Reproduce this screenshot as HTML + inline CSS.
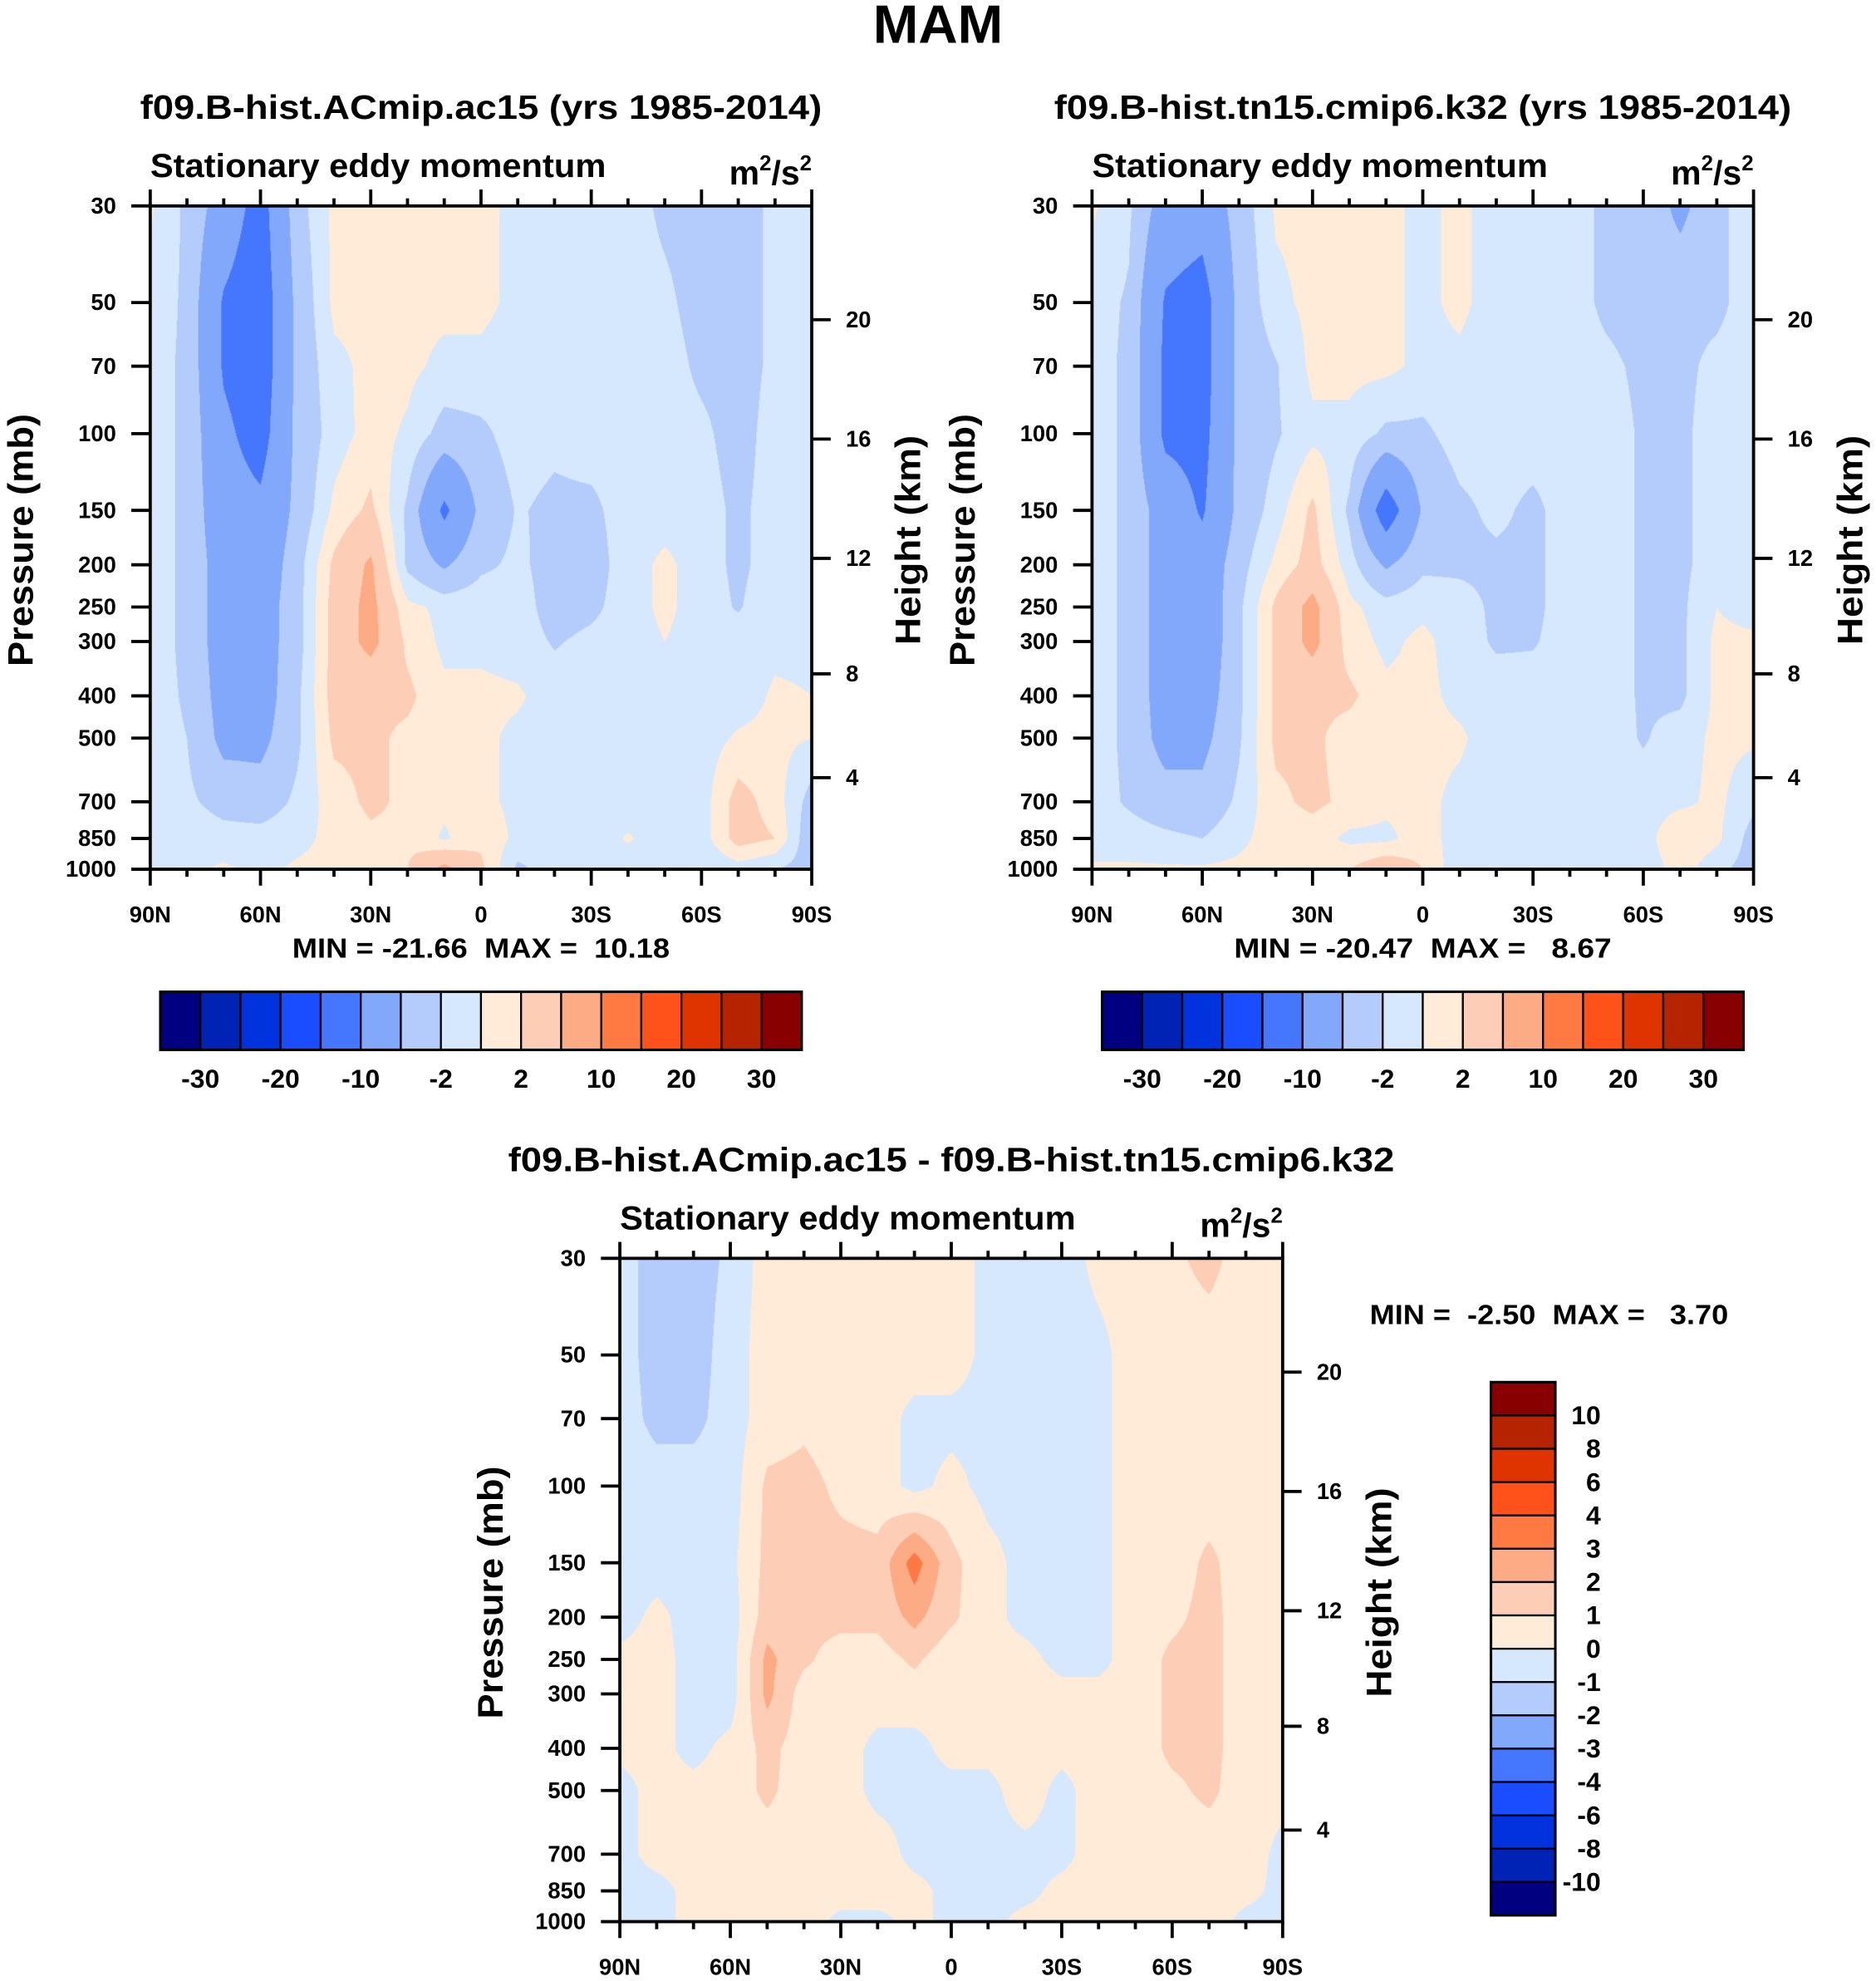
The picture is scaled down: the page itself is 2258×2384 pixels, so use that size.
<!DOCTYPE html>
<html><head><meta charset="utf-8"><style>
html,body{margin:0;padding:0;background:#fff;width:2258px;height:2384px;overflow:hidden}
#root{position:absolute;left:0;top:0;width:1486px;height:1568px;transform-origin:0 0;transform:scale(1.51952,1.52041)}
canvas{position:absolute}
svg{position:absolute;left:0;top:0}
text{font-family:"Liberation Sans",Arial,sans-serif;font-weight:bold;fill:#000;white-space:pre}
</style></head><body>
<div id="root">
<canvas id="c1" width="800" height="800" style="left:119px;top:163px;width:524px;height:525px"></canvas>
<canvas id="c2" width="800" height="800" style="left:865px;top:163px;width:524px;height:525px"></canvas>
<canvas id="c3" width="800" height="800" style="left:491px;top:996px;width:525px;height:525px"></canvas>
<svg id="ov" width="1486" height="1568" viewBox="0 0 1486 1568">
<text x="743" y="34" font-size="43" text-anchor="middle" textLength="103" lengthAdjust="spacingAndGlyphs">MAM</text>
</svg>
</div>
<script>
const LATS=[90,80,70,60,50,40,30,20,10,0,-10,-20,-30,-40,-50,-60,-70,-80,-90];
const PLEVS=[30,50,70,100,150,200,250,300,400,500,700,850,1000];
const PTICKS=[30,50,70,100,150,200,250,300,400,500,700,850,1000];
const HTICKS=[4,8,12,16,20];
const XTICK_LATS=[90,60,30,0,-30,-60,-90];
const XTICK_LABELS=["90N","60N","30N","0","30S","60S","90S"];
const COLORS=["#000080","#0022b5","#0033dd","#1a4dff","#4577fe","#82a8fc","#b3ccfb","#d6e8fd","#ffebd8","#fdcdb5","#fdab85","#ff7a42","#ff5119","#e03400","#b52300","#880000"];
const LEVELS_A=[-30,-25,-20,-15,-10,-5,-2,0,2,5,10,15,20,25,30];
const LEVELS_D=[-10,-8,-6,-4,-3,-2,-1,0,1,2,3,4,6,8,10];
const CB_LABELS_A=["-30","-20","-10","-2","2","10","20","30"];
const CB_LABELS_D=["10","8","6","4","3","2","1","0","-1","-2","-3","-4","-6","-8","-10"];
// columns by latitude (90N..90S), each 13 pressure values (30..1000 mb)
const fieldAC15=[
[0.3,-0.5,-1,-1,-1,-1,-1,-1,-1,-1,-1,-0.5,-0.5],
[-2.5,-2.5,-2.5,-2.5,-2.5,-2.5,-2.5,-2.5,-2.3,-2,-1.5,-0.5,-0.5],
[-7,-10.5,-10.5,-9,-8,-7,-7,-7,-6.5,-6,-3,-1,0.3],
[-12,-13,-13,-12,-9,-8,-7,-7,-7,-6,-3.5,-1,-0.5],
[-3,-4,-4,-4,-4,-3,-3,-3,-2.5,-2.5,-1.5,-0.5,0.3],
[0.5,0.5,-0.5,-1,0.5,2.5,3,3,3,2.5,1,0.5,0.5],
[0.5,0.5,0.5,0.8,2.5,5.5,6,6,2.5,2.5,2.5,1.5,1],
[0.5,0.5,0.5,-0.3,-2.5,-2.5,0.5,1.5,2.5,1.5,1.5,1.5,2],
[0.5,0.5,-0.5,-3,-11,-5.5,-0.5,-0.5,0.5,0.5,0.5,-0.3,6],
[0.5,0.5,-0.5,-2.5,-4,-2.5,-0.5,-0.5,0.5,0.5,0.5,1.5,2.5],
[-0.5,-0.5,-1,-1,-1.8,-1.5,-1,-1,0.3,-0.5,-0.5,-0.5,-2.5],
[-1,-1,-1,-1.5,-2.5,-3,-3,-2.2,-1,-1,-1,-1,-1],
[-1,-1,-1,-1,-2.5,-3,-2.5,-1.5,-1,-1,-1,-1,-1],
[-1,-1,-1,-1,-1,-1,-1,-1,-1,-1,-1,0.2,-1],
[-2.5,-1.5,-1,-1,-1,0.5,0.5,0,-1,-1,-1,-1,-1],
[-3,-3,-2.5,-1.5,-1,-1,-1,-1,-1,-1,-1,-1,-2],
[-3,-3,-3,-3,-2.5,-2.5,-2.2,-1,-1,0.3,3,3,-1],
[-1.5,-1.5,-1.5,-1,-1,-1,-0.5,-0.5,0.3,0.5,1,2,-2],
[-1,-1,-1,-1,-1,-1,-1,-0.5,0,0,-3,-4,-3]];
const fieldTN15=[
[0.3,-1,-1,-1,-1,-1,-1,-1,-1,-1,-1,-1,0.3],
[-1.5,-2.3,-2.5,-2.5,-2.5,-2.5,-2.5,-2.5,-2.5,-2.5,-2.3,-1,0.3],
[-7,-10.5,-11,-11,-7,-7,-7,-7,-7,-6.5,-3.5,-1.5,0.3],
[-8,-12,-12,-11.5,-10.5,-8,-8,-8,-7,-6,-4,-2,0.3],
[-3.5,-4,-4,-4,-4,-3,-2.5,-2.5,-2.5,-2.3,-1.5,-0.5,0.5],
[0.3,-0.5,-2.2,-2.3,-1,0.5,2.5,2.5,2.5,2.5,1.5,1,1],
[0.5,0.5,0.5,-0.5,2.5,3,6,6,2.5,2.5,2.5,1,1.5],
[0.5,0.5,0.5,-0.5,-2.5,-1,0.5,1,2.5,1,1.5,-0.5,2],
[0.5,0.5,0.5,-2.5,-13,-5.5,-1,-0.5,0.5,0.5,0.5,-0.5,4],
[-0.5,-0.5,-0.5,-2.5,-4.5,-2.5,-0.5,0.5,0.5,0.5,0.5,1,2],
[0.5,0.5,-0.5,-1,-2.5,-2.5,-1,-1,-0.5,0.3,-0.5,-1,-1.5],
[-1,-1,-1,-1,-1.5,-2.5,-2.5,-2.3,-1,-1,-1,-1,-1],
[-1,-1,-1,-1,-2.5,-2.5,-2.5,-2.2,-1,-1,-1,-1,-1],
[-1,-1,-1,-1,-1,-1,-1,-1,-1,-1,-1,-1,-1],
[-2.5,-2.5,-1.5,-1,-1,-1,-1,-1,-1,-1,-1,-1,-1],
[-2.5,-3,-2.5,-2.3,-2.3,-2.3,-2.3,-2.3,-2.3,-2.2,-1,-1,-1.5],
[-6,-2.5,-2.5,-2.5,-2.5,-2.5,-2.5,-2.5,-2.5,-1,-0.5,2,1],
[-2.5,-2.5,-1.5,-1,-1,-1,0,0.5,0.5,0.5,0.5,0.5,-1.5],
[-1,-1,-1,-1,-1,-1,-1,0.5,0.5,0.3,-1.5,-3,-3]];
const fieldDiff=[
[-0.5,-0.5,-0.5,-0.5,-0.5,-0.5,0.3,0.3,0.2,-0.3,-0.3,-0.3,-0.3],
[-1.5,-1.5,-1.3,-0.5,-0.5,0.3,0.5,0.5,0.3,0.3,0.3,-0.3,-0.3],
[-1.5,-1.5,-1.3,-0.5,-0.5,-0.5,-0.5,-0.5,-0.3,0.3,0.3,0.3,0.3],
[-0.8,-0.5,-0.5,-0.5,-0.3,-0.5,-0.5,-0.5,0.3,0.5,0.5,0.5,0.5],
[0.5,0.5,0.5,1.2,1.3,1.5,2.3,2.3,1.3,1.2,0.5,0.5,0.5],
[0.5,0.5,0.8,1.3,1.3,1.3,1.2,0.5,0.5,0.5,0.5,0.5,0.5],
[0.5,0.5,0.5,0.8,1.3,1.3,0.5,0.5,0.5,0.5,0.5,0.5,-0.3],
[0.5,0.5,0.5,0.5,1.3,1.3,0.5,0.5,-0.3,-0.3,0.5,0.5,-0.3],
[0.5,0.5,-0.3,-0.3,3.5,2.3,1.2,0.5,-0.3,-0.3,-0.3,0.3,0.3],
[0.5,0.5,-0.3,0.3,1.3,1.2,0.3,0.3,0.3,-0.3,-0.3,-0.3,-0.3],
[-0.3,-0.3,-0.3,-0.3,0.3,0.3,0.3,0.3,0.3,-0.3,-0.3,-0.3,-0.3],
[-0.5,-0.5,-0.5,-0.3,-0.3,-0.3,0.3,0.5,0.5,0.5,-0.3,-0.3,0.3],
[-0.5,-0.5,-0.5,-0.5,-0.5,-0.5,-0.3,0.3,0.3,-0.3,-0.3,0.3,0.3],
[0.3,-0.3,-0.3,-0.3,-0.3,-0.3,-0.3,0.3,0.3,0.5,0.5,0.5,0.5],
[0.5,0.5,0.5,0.5,0.5,0.5,0.5,0.5,0.5,0.5,0.5,0.5,0.5],
[0.8,0.5,0.5,0.5,0.5,0.8,1.2,1.2,1.2,0.8,0.5,0.5,0.5],
[1.3,0.5,0.5,0.5,1.2,1.3,1.3,1.3,1.3,1.2,0.5,0.5,0.5],
[0.5,0.5,0.5,0.5,0.5,0.5,0.5,0.5,0.5,0.5,0.5,0.3,-0.3],
[0.5,0.5,0.5,0.5,0.5,0.5,0.5,0.5,0.5,0.3,-0.3,-0.3,-0.3]];

const NS="http://www.w3.org/2000/svg";
const ov=document.getElementById('ov');
function mk(tag,attrs,txt){const e=document.createElementNS(NS,tag);for(const k in attrs)e.setAttribute(k,attrs[k]);if(txt!==undefined)e.textContent=txt;ov.appendChild(e);return e;}
function hex(c){return [parseInt(c.substr(1,2),16),parseInt(c.substr(3,2),16),parseInt(c.substr(5,2),16)];}
const RGB=COLORS.map(hex);
function levelIndex(v,lv){let i=0;while(i<lv.length&&v>=lv[i])i++;return i;}
function pOfZ(z){const m=z*1000;if(m<=11000)return 1013.25*Math.pow(1-2.25577e-5*m,5.25588);return 226.32*Math.exp(-(m-11000)/6341.6);}
const LOGP=PLEVS.map(p=>Math.log(p));
function sample(field,lat,p){
  const fi=Math.min(Math.max((90-lat)/10,0),LATS.length-1.0001);
  const i0=Math.floor(fi),tx=fi-i0;
  const lp=Math.log(p);let j0=0;while(j0<LOGP.length-2&&lp>LOGP[j0+1])j0++;
  let ty=(lp-LOGP[j0])/(LOGP[j0+1]-LOGP[j0]);ty=Math.min(Math.max(ty,0),1);
  const a=field[i0][j0],b=field[i0+1][j0],c=field[i0][j0+1],d=field[i0+1][j0+1];
  return (a*(1-tx)+b*tx)*(1-ty)+(c*(1-tx)+d*tx)*ty;}
function fill(canvasId,field,levels){
  const cv=document.getElementById(canvasId),ctx=cv.getContext('2d');
  const W=cv.width,H=cv.height,img=ctx.createImageData(W,H);
  for(let y=0;y<H;y++){const p=30*Math.exp((y+0.5)/H*Math.log(1000/30));
    for(let x=0;x<W;x++){const lat=90-180*(x+0.5)/W;const v=sample(field,lat,p);
      const c=RGB[levelIndex(v,levels)];const k=(y*W+x)*4;img.data[k]=c[0];img.data[k+1]=c[1];img.data[k+2]=c[2];img.data[k+3]=255;}}
  ctx.putImageData(img,0,0);}
fill('c1',fieldAC15,LEVELS_A);fill('c2',fieldTN15,LEVELS_A);fill('c3',fieldDiff,LEVELS_D);

function panel(x0,y0,w,h,title,ty,tlen,minmax,tag){
  const xOf=lat=>x0+(90-lat)/180*w;
  const yOf=p=>y0+Math.log(p/30)/Math.log(1000/30)*h;
  const t=mk('text',{x:x0+w/2,y:ty,'font-size':27,'text-anchor':'middle',textLength:tlen,lengthAdjust:'spacingAndGlyphs'},title);
  
  
  const st=mk('text',{x:x0,y:y0-23,'font-size':26,textLength:361,lengthAdjust:'spacingAndGlyphs'},'Stationary eddy momentum');
  
  
  const un=mk('text',{x:x0+w,y:y0-17,'font-size':27,'text-anchor':'end'});
  un.innerHTML='m<tspan dy="-11" font-size="17">2</tspan><tspan dy="11">/s</tspan><tspan dy="-11" font-size="17">2</tspan>';
  
  
  for(let lat=90;lat>=-90;lat-=10){const x=xOf(lat);const major=lat%30===0;const L=major?13:6;
    const t1=mk('line',{x1:x,x2:x,y1:y0,y2:y0-L,stroke:'#000','stroke-width':2.5});
    
    
    const t2=mk('line',{x1:x,x2:x,y1:y0+h,y2:y0+h+L,stroke:'#000','stroke-width':2.5});
    
    }
  XTICK_LATS.forEach((lat,i)=>{const l=mk('text',{x:xOf(lat),y:y0+h+42,'font-size':18,'text-anchor':'middle'},XTICK_LABELS[i]);
    
    });
  PTICKS.forEach(p=>{const y=yOf(p);
    const tk=mk('line',{x1:x0-15,x2:x0,y1:y,y2:y,stroke:'#000','stroke-width':2.5});
    
    
    const l=mk('text',{x:x0-27,y:y+6,'font-size':18,'text-anchor':'end'},String(p));
    
    });
  HTICKS.forEach(z=>{const y=yOf(pOfZ(z));
    const tk=mk('line',{x1:x0+w,x2:x0+w+15,y1:y,y2:y,stroke:'#000','stroke-width':2.5});
    
    
    const l=mk('text',{x:x0+w+27,y:y+6,'font-size':18},String(z));
    
    });
  const fr=mk('rect',{x:x0,y:y0,width:w,height:h,fill:'none',stroke:'#000','stroke-width':2.5});
  
  
  const yt=mk('text',{x:0,y:0,'font-size':28,'text-anchor':'middle',transform:`translate(${x0-93},${y0+h/2+2}) rotate(-90)`,textLength:200,lengthAdjust:'spacingAndGlyphs'},'Pressure (mb)');
  
  
  const ht=mk('text',{x:0,y:0,'font-size':28,'text-anchor':'middle',transform:`translate(${x0+w+86},${y0+h/2+2}) rotate(-90)`,textLength:166,lengthAdjust:'spacingAndGlyphs'},'Height (km)');
  
  
  if(minmax){const mm=mk('text',{x:x0+w/2,y:y0+h+70,'font-size':22,'text-anchor':'middle',textLength:299,lengthAdjust:'spacingAndGlyphs'},minmax);
    
    }
}
panel(119,163,524,525,'f09.B-hist.ACmip.ac15 (yrs 1985-2014)',94,540,'MIN = -21.66  MAX =  10.18','ac15');
panel(865,163,524,525,'f09.B-hist.tn15.cmip6.k32 (yrs 1985-2014)',94,584,'MIN = -20.47  MAX =   8.67','tn15');
panel(491,996,525,525,'f09.B-hist.ACmip.ac15 - f09.B-hist.tn15.cmip6.k32',927,702,null,'diff');
const mm3=mk('text',{x:1085,y:1048,'font-size':22,textLength:284,lengthAdjust:'spacingAndGlyphs'},'MIN =  -2.50  MAX =   3.70');



function hbar(x0,y0,w,h,tag){const bw=w/COLORS.length;
  COLORS.forEach((c,i)=>{const r=mk('rect',{x:x0+i*bw,y:y0,width:bw,height:h,fill:c,stroke:'#000','stroke-width':1.5});
    
    });
  const fr=mk('rect',{x:x0,y:y0,width:w,height:h,fill:'none',stroke:'#000','stroke-width':2});
  
  
  CB_LABELS_A.forEach((s,i)=>{const l=mk('text',{x:x0+(2*i+1)*bw,y:y0+h+30,'font-size':21,'text-anchor':'middle'},s);
    
    });}
hbar(127,785,508,46,'ac15');hbar(873,785,508,46,'tn15');
(function(){const x0=1181,y0=1094,w=51,h=422,bh=h/COLORS.length;
  COLORS.slice().reverse().forEach((c,i)=>{const r=mk('rect',{x:x0,y:y0+i*bh,width:w,height:bh,fill:c,stroke:'#000','stroke-width':1.5});
    
    });
  const fr=mk('rect',{x:x0,y:y0,width:w,height:h,fill:'none',stroke:'#000','stroke-width':2});
  
  
  CB_LABELS_D.forEach((s,i)=>{const l=mk('text',{x:1268,y:y0+(i+1)*bh+7,'font-size':21,'text-anchor':'end'},s);
    
    });})();
</script>
</body></html>
